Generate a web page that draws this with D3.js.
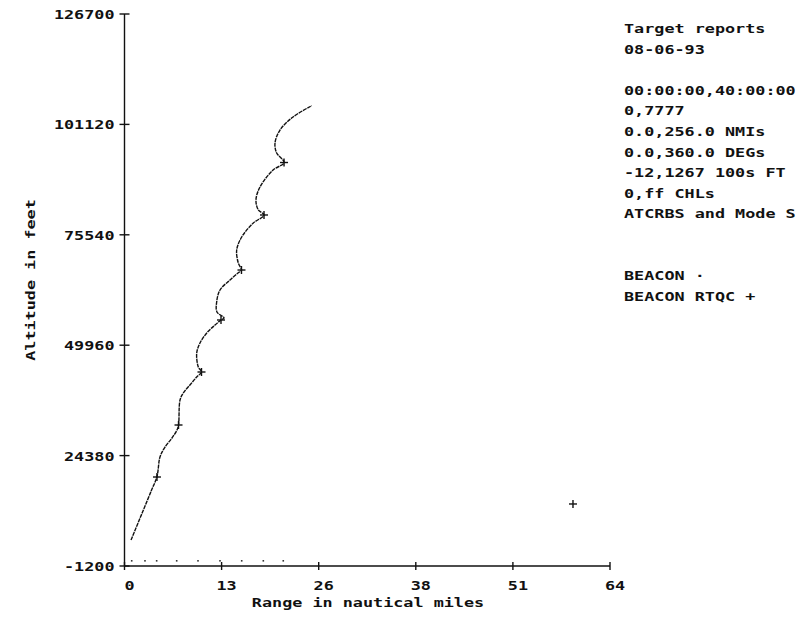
<!DOCTYPE html>
<html>
<head>
    <meta charset="UTF-8">
    <script src="https://d3js.org/d3.v7.min.js"></script>
    <style>
        body { margin: 0; background: #fff; }
        text { font-family: "DejaVu Sans Mono", monospace; font-weight: bold; fill: #111; }
    </style>
</head>
<body>
    <svg id="chart"></svg>

    <script>
// DATA
    // beacon track: range (nmi), altitude (ft)
    var beaconRange = [0.86, 2.38, 3.57, 4.28, 4.68, 5.34, 6.26, 6.92, 7.12, 7.32, 7.75, 8.63, 9.52, 10.15,
                       9.73, 9.52, 9.95, 10.84, 11.93, 12.72, 13.12, 12.19, 12.15, 12.59, 13.91, 14.96, 15.42,
                       15.0, 14.79, 15.45, 16.98, 18.39, 17.64, 17.33, 17.86, 19.58, 21.03, 20.06, 19.84,
                       20.5, 22.21, 24.68];
    var beaconAlt   = [4800, 11300, 16400, 19500, 24050, 26370, 28460, 30310, 31470, 37260, 38880, 40740, 42590, 43750,
                       44910, 48150, 50470, 52790, 54640, 55800, 56260, 57650, 59970, 62750, 65070, 66690, 67380,
                       69000, 72020, 75030, 78270, 80130, 81290, 83600, 86610, 90550, 92290, 94490, 96810,
                       99820, 102830, 105450];

    // beacon reports with zero altitude
    var zeroRange = [0.95, 2.70, 4.24, 6.88, 9.69, 12.59, 15.45, 18.30, 20.93];
    var zeroAlt   = [0, 0, 0, 0, 0, 0, 0, 0, 0];

    // RTQC reports
    var rtqcRange = [4.28, 7.12, 10.15, 12.72, 15.42, 18.39, 21.03, 59.12];
    var rtqcAlt   = [19420, 31470, 43750, 55800, 67380, 80130, 92290, 13170];

    var xTickValues = [0, 12.8, 25.6, 38.4, 51.2, 64];
    var xTickLabels = ["0", "13", "26", "38", "51", "64"];
    var yTickValues = [-1200, 24380, 49960, 75540, 101120, 126700];
    var yTickLabels = ["-1200", "24380", "49960", "75540", "101120", "126700"];

    var infoLines = ["Target reports", "08-06-93", "", "00:00:00,40:00:00", "0,7777", "0.0,256.0 NMIs",
                     "0.0,360.0 DEGs", "-12,1267 100s FT", "0,ff CHLs", "ATCRBS and Mode S", "", "",
                     "BEACON \u00b7", "BEACON RTQC +"];

// CHART
    var width = 799,
        height = 623,
        charW = 10.1;   // old plotter font is wide

    var svg = d3.select("#chart")
                .attr("width", width)
                .attr("height", height);

    var x = d3.scaleLinear().domain([0, 64]).range([124.5, 610]);
    var y = d3.scaleLinear().domain([-1200, 126700]).range([566, 14]);

    function wideText(sel, s) {
        sel.text(s);
        if (s.length > 0) sel.attr("textLength", s.length * charW).attr("lengthAdjust", "spacingAndGlyphs");
        return sel;
    }

    // axes drawn as plain lines with cross ticks
    var axes = svg.append("g").attr("stroke", "#111").attr("stroke-width", 1.4);
    axes.append("line").attr("x1", x(0)).attr("x2", x(0)).attr("y1", y(126700)).attr("y2", y(-1200));
    axes.append("line").attr("x1", x(0)).attr("x2", x(64)).attr("y1", y(-1200)).attr("y2", y(-1200));

    axes.selectAll(".yt").data(yTickValues).enter().append("line")
        .attr("x1", x(0) - 5).attr("x2", x(0) + 5)
        .attr("y1", d => y(d)).attr("y2", d => y(d));
    axes.selectAll(".xt").data(xTickValues).enter().append("line")
        .attr("x1", d => x(d)).attr("x2", d => x(d))
        .attr("y1", y(-1200) - 4).attr("y2", y(-1200) + 4);

    svg.selectAll(".ylab").data(yTickValues).enter().append("text")
        .attr("x", x(0) - 10)
        .attr("y", d => y(d) + 5)
        .attr("text-anchor", "end")
        .attr("font-size", 13)
        .each(function(d, i) { wideText(d3.select(this), yTickLabels[i]); });

    svg.selectAll(".xlab").data(xTickValues).enter().append("text")
        .attr("x", d => x(d) + 5)
        .attr("y", y(-1200) + 24)
        .attr("text-anchor", "middle")
        .attr("font-size", 13)
        .each(function(d, i) { wideText(d3.select(this), xTickLabels[i]); });

    wideText(svg.append("text")
        .attr("x", 368).attr("y", 607)
        .attr("text-anchor", "middle")
        .attr("font-size", 13), "Range in nautical miles");

    wideText(svg.append("text")
        .attr("transform", "translate(35,280) rotate(-90)")
        .attr("text-anchor", "middle")
        .attr("font-size", 13), "Altitude in feet");

    // info block on the right
    svg.selectAll(".info").data(infoLines).enter().append("text")
        .attr("x", 624)
        .attr("y", (d, i) => 33 + i * 20.6)
        .attr("font-size", 13)
        .each(function(d) { wideText(d3.select(this), d); });

    // beacon track
    var track = d3.zip(beaconRange, beaconAlt);
    var line = d3.line()
                 .x(d => x(d[0]))
                 .y(d => y(d[1]))
                 .curve(d3.curveCatmullRom.alpha(0.5));

    svg.append("path")
        .attr("d", line(track))
        .attr("fill", "none")
        .attr("stroke", "#111")
        .attr("stroke-width", 1.4)
        .attr("stroke-dasharray", "4,0.8");

    svg.selectAll(".zero").data(d3.zip(zeroRange, zeroAlt)).enter().append("rect")
        .attr("x", d => x(d[0]) - 0.8)
        .attr("y", d => y(d[1]) - 0.8)
        .attr("width", 1.6).attr("height", 1.6)
        .attr("fill", "#333");

    // RTQC crosses
    var rtqc = svg.append("g").attr("stroke", "#111").attr("stroke-width", 1.4);
    d3.zip(rtqcRange, rtqcAlt).forEach(d => {
        var cx = x(d[0]), cy = y(d[1]);
        rtqc.append("line").attr("x1", cx - 4).attr("x2", cx + 4).attr("y1", cy).attr("y2", cy);
        rtqc.append("line").attr("x1", cx).attr("x2", cx).attr("y1", cy - 4).attr("y2", cy + 4);
    });
</script>
</body>
</html>
